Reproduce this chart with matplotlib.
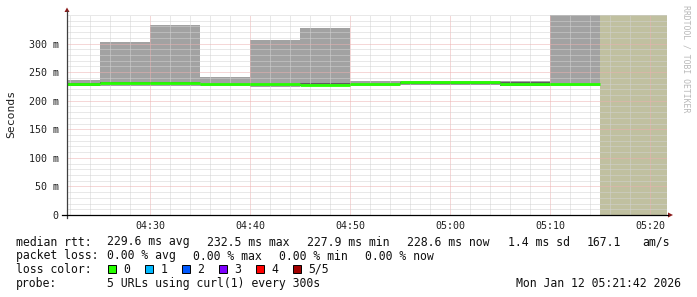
import matplotlib
matplotlib.use("Agg")
import matplotlib.pyplot as plt
from matplotlib.lines import Line2D
from matplotlib.patches import Rectangle, Polygon
import numpy as np

# ---- data ----
step_starts = ["04:20", "04:25", "04:30", "04:35", "04:40", "04:45",
               "04:50", "04:55", "05:00", "05:05", "05:10"]
smoke_lo = [225.8, 225.8, 225.8, 226.3, 224.5, 226.3, 226.3, 227.0, 227.0, 225.0, 226.3]
smoke_hi = [236.3, 302.8, 332.5, 242.0, 306.3, 327.3, 234.5, 234.5, 234.5, 234.0, 350.0]
inner_lo = [225.8, 228.5, 228.5, 226.8, 226.8, 226.5, 227.0, 227.5, 227.5, 225.5, 227.0]
inner_hi = [231.0, 232.0, 232.0, 230.0, 230.0, 231.0, 230.0, 232.0, 232.0, 233.0, 230.0]
median_rtt = [230.1, 230.5, 230.5, 228.4, 228.4, 227.9, 228.7, 232.5, 232.5, 228.9, 228.6]
unknown_start = "05:15"
view_start = "04:21:42"
view_end = "05:21:42"
x_tick_labels = ["04:30", "04:40", "04:50", "05:00", "05:10", "05:20"]
y_ticks = [0, 50, 100, 150, 200, 250, 300]
loss_labels = ["0", "1", "2", "3", "4", "5/5"]
loss_colors = ["#26ff00", "#00b8ff", "#0059ff", "#7e00ff", "#ff0000", "#a10000"]

def tmin(s):
    p = [int(v) for v in s.split(":")]
    m = (p[0] - 4) * 60 + p[1]
    if len(p) > 2:
        m += p[2] / 60.0
    return m

W, H = 697, 297
fig = plt.figure(figsize=(W / 100, H / 100), dpi=100)
fig.patch.set_facecolor("white")
ax = fig.add_axes([67 / W, 82 / H, 600 / W, 200 / H])
ax.set_facecolor("white")

starts = np.array([tmin(s) for s in step_starts])
step = 5.0
lo = np.array(smoke_lo); hi = np.array(smoke_hi)
ilo = np.array(inner_lo); ihi = np.array(inner_hi)

ax.axvspan(tmin(unknown_start), tmin(view_end), color="#c0c0a0", lw=0, zorder=0.5)
ax.bar(starts, hi - lo, bottom=lo, width=step, align="edge", color="#a2a2a2",
       linewidth=0, zorder=1)
ax.bar(starts, ihi - ilo, bottom=ilo, width=step, align="edge", color="#5e5e5e",
       linewidth=0, zorder=1.5)
ax.hlines(median_rtt, starts, starts + step, colors=loss_colors[0], lw=2.0, zorder=3)

ax.set_xlim(tmin(view_start), tmin(view_end))
ax.set_ylim(0, 350)

xt = [tmin(s) for s in x_tick_labels]
ax.set_xticks(xt)
ax.set_xticklabels(x_tick_labels)
ax.set_xticks(np.arange(22, 82, 2), minor=True)
ax.set_yticks(y_ticks)
ax.set_yticklabels(["0" if v == 0 else f"{v} m" for v in y_ticks])
ax.set_yticks(np.arange(0, 351, 10), minor=True)

ax.set_axisbelow(False)
ax.grid(which="minor", color="#d2d2d2", linestyle=(0, (1, 1)), lw=0.72)
ax.grid(which="major", color="#ecb0b0", linestyle=(0, (1, 1)), lw=0.72)

for sp in ax.spines.values():
    sp.set_visible(False)
ax.tick_params(which="both", length=0)
ax.tick_params(axis="y", pad=6)
ax.tick_params(axis="x", pad=4)
for lab in ax.get_xticklabels() + ax.get_yticklabels():
    lab.set_fontfamily("DejaVu Sans Mono")
    lab.set_fontsize(7.2)
    lab.set_color("#202020")

def fx(x):
    return x / W
def fy(y):
    return 1 - y / H

# axis lines
fig.add_artist(Line2D([fx(67), fx(67)], [fy(218), fy(11)], color="#404040", lw=0.9))
fig.add_artist(Line2D([fx(62), fx(668)], [fy(215), fy(215)], color="#000000", lw=0.9))
arrow_c = "#8b1a1a"
fig.add_artist(Polygon([[fx(64.5), fy(12)], [fx(69.5), fy(12)], [fx(67), fy(7.5)]],
                       closed=True, color=arrow_c, lw=0))
fig.add_artist(Polygon([[fx(668), fy(212.5)], [fx(668), fy(217.5)], [fx(673), fy(215)]],
                       closed=True, color=arrow_c, lw=0))

mono = "DejaVu Sans Mono"
fs = 8.3
fig.text(fx(11), fy(114), "Seconds", rotation=90, ha="center", va="center",
         fontfamily=mono, fontsize=8.2, color="#202020")
fig.text(fx(686), fy(59), "RRDTOOL / TOBI OETIKER", rotation=270, ha="center", va="center",
         fontfamily=mono, fontsize=5.9, color="#b8b8b8")

def t(x, y, s, ha="left"):
    fig.text(fx(x), fy(y), s, ha=ha, va="center", fontfamily=mono, fontsize=fs, color="#101010")

r1, r2, r3, r4 = 242, 256, 269.5, 283.5
t(16, r1, "median rtt:")
t(107.3, r1, "229.6 ms avg")
t(207.3, r1, "232.5 ms max")
t(307.3, r1, "227.9 ms min")
t(407, r1, "228.6 ms now")
t(507.7, r1, "1.4 ms sd")
t(586.3, r1, "167.1")
t(642.7, r1, "am/s")

t(16, r2, "packet loss:")
t(107.3, r2, "0.00 % avg")
t(193.3, r2, "0.00 % max")
t(279.3, r2, "0.00 % min")
t(365, r2, "0.00 % now")

t(16, r3, "loss color:")
box_x = [108.3, 145.3, 182.3, 219.3, 256.3, 293.3]
for bx, c, lab in zip(box_x, loss_colors, loss_labels):
    fig.add_artist(Rectangle((fx(bx), fy(273)), 7.3 / W, 7.7 / H, facecolor=c,
                             edgecolor="black", lw=0.7))
    t(bx + 15, r3, lab)

t(16, r4, "probe:")
t(107.3, r4, "5 URLs using curl(1) every 300s")
t(680.5, r4, "Mon Jan 12 05:21:42 2026", ha="right")

fig.savefig("out.png", dpi=100)
